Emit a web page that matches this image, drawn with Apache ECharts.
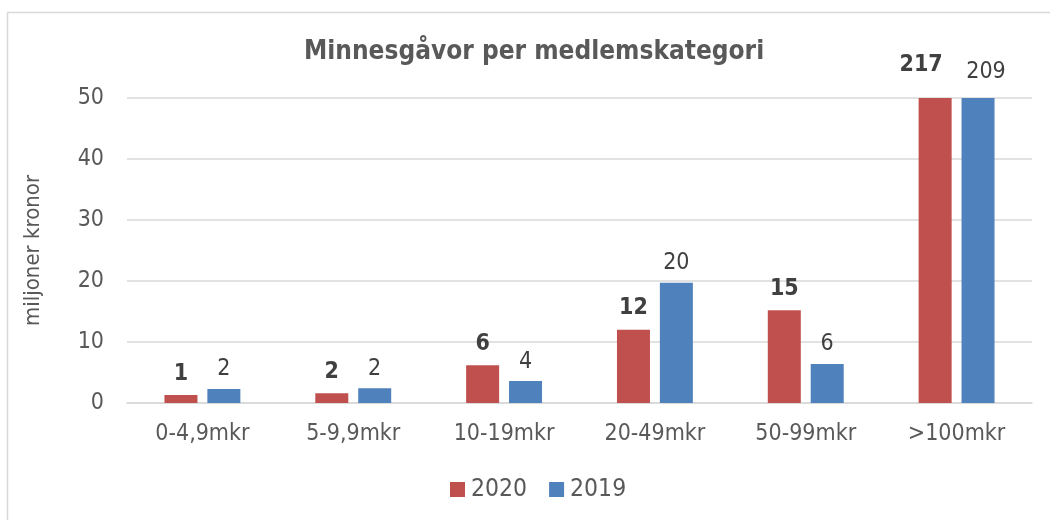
<!DOCTYPE html>
<html>
<head>
<meta charset="utf-8">
<script src="https://cdn.jsdelivr.net/npm/echarts@6/dist/echarts.min.js"></script>
<style>
html,body{margin:0;padding:0;background:#fff;}
#chart{width:1050px;height:520px;}
</style>
</head>
<body>
<div id="chart"></div>
<script>
const categories = ['0-4,9mkr', '5-9,9mkr', '10-19mkr', '20-49mkr', '50-99mkr', '>100mkr'];
const values2020 = [1.3, 1.6, 6.2, 12.0, 15.2, 217];
const values2019 = [2.3, 2.4, 3.6, 19.7, 6.4, 209];
const yTicks = [0, 10, 20, 30, 40, 50];
const seriesNames = ['2020', '2019'];

const FONT = '"DejaVu Sans Condensed", "DejaVu Sans", sans-serif';
const chart = echarts.init(document.getElementById('chart'));

function buildData(values, normalDist, lastLabel) {
  return values.map((v, i) => ({
    value: v,
    label: i === values.length - 1 ? lastLabel : { distance: normalDist }
  }));
}

chart.setOption({
  animation: false,
  backgroundColor: '#fff',
  graphic: [{
    type: 'rect',
    shape: { x: 7.5, y: 12.5, width: 1200, height: 700 },
    style: { fill: 'none', stroke: '#d9d9d9', lineWidth: 1.5 },
    silent: true, z: -10
  }],
  title: {
    text: 'Minnesgåvor per medlemskategori',
    left: 299,
    top: 34,
    textStyle: { fontFamily: FONT, fontWeight: 'bold', fontSize: 26, color: '#595959' }
  },
  legend: {
    bottom: 13,
    left: 445,
    itemWidth: 15, itemHeight: 15, itemGap: 22,
    icon: 'rect',
    textStyle: { fontFamily: FONT, fontSize: 24.5, color: '#595959', padding: [0, 0, 0, 1] },
    data: seriesNames
  },
  grid: { left: 127, right: 18, top: 98, bottom: 117 },
  xAxis: {
    type: 'category',
    data: categories,
    axisLine: { lineStyle: { color: '#d9d9d9', width: 1.5 } },
    axisTick: { show: false },
    axisLabel: { fontFamily: FONT, fontSize: 23, color: '#595959', margin: 20 }
  },
  yAxis: {
    type: 'value',
    min: yTicks[0], max: yTicks[yTicks.length - 1], interval: yTicks[1] - yTicks[0],
    name: 'miljoner kronor',
    nameLocation: 'middle',
    nameGap: 83,
    nameRotate: 90,
    nameTextStyle: { fontFamily: FONT, fontSize: 22, color: '#595959' },
    axisLine: { show: false },
    axisTick: { show: false },
    splitLine: { lineStyle: { color: '#d9d9d9', width: 1.5 } },
    axisLabel: { fontFamily: FONT, fontSize: 23, color: '#595959', margin: 23 }
  },
  series: [
    {
      name: seriesNames[0], type: 'bar',
      data: buildData(values2020, 10, { distance: 21, offset: [-14, 0] }),
      barWidth: 33, barGap: '30%',
      itemStyle: { color: '#C0504D' },
      clip: true,
      label: { show: true, position: 'top', fontFamily: FONT, fontSize: 23, fontWeight: 'bold', color: '#404040',
        formatter: p => Math.round(p.value) }
    },
    {
      name: seriesNames[1], type: 'bar',
      data: buildData(values2019, 8, { distance: 14, offset: [8, 0] }),
      barWidth: 33, barGap: '30%',
      itemStyle: { color: '#4F81BD' },
      clip: true,
      label: { show: true, position: 'top', fontFamily: FONT, fontSize: 23, color: '#404040',
        formatter: p => Math.round(p.value) }
    }
  ]
});
</script>
</body>
</html>
